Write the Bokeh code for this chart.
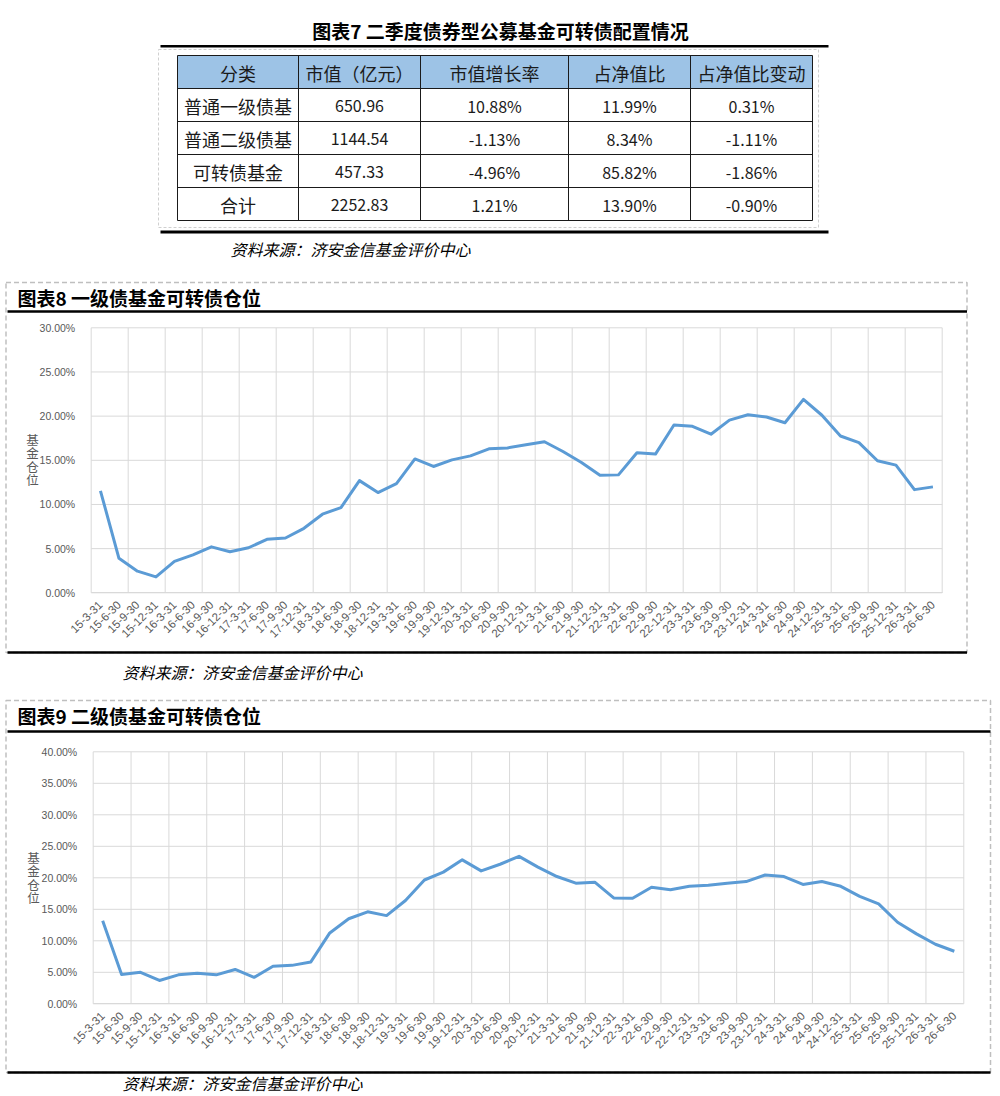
import math
from bokeh.plotting import figure
from bokeh.layouts import column
from bokeh.models import Range1d, FixedTicker, PrintfTickFormatter
from bokeh.core.properties import value
from bokeh.embed import file_html
from bokeh.resources import INLINE

# ---------------- data ----------------
table_title = "图表7 二季度债券型公募基金可转债配置情况"
table_header = ["分类", "市值（亿元）", "市值增长率", "占净值比", "占净值比变动"]
row_names = ["普通一级债基", "普通二级债基", "可转债基金", "合计"]
market_value = ["650.96", "1144.54", "457.33", "2252.83"]
growth_rate = ["10.88%", "-1.13%", "-4.96%", "1.21%"]
nav_ratio = ["11.99%", "8.34%", "85.82%", "13.90%"]
nav_ratio_change = ["0.31%", "-1.11%", "-1.86%", "-0.90%"]
source_text = "资料来源：济安金信基金评价中心"

quarters = ["15-3-31", "15-6-30", "15-9-30", "15-12-31",
            "16-3-31", "16-6-30", "16-9-30", "16-12-31",
            "17-3-31", "17-6-30", "17-9-30", "17-12-31",
            "18-3-31", "18-6-30", "18-9-30", "18-12-31",
            "19-3-31", "19-6-30", "19-9-30", "19-12-31",
            "20-3-31", "20-6-30", "20-9-30", "20-12-31",
            "21-3-31", "21-6-30", "21-9-30", "21-12-31",
            "22-3-31", "22-6-30", "22-9-30", "22-12-31",
            "23-3-31", "23-6-30", "23-9-30", "23-12-31",
            "24-3-31", "24-6-30", "24-9-30", "24-12-31",
            "25-3-31", "25-6-30", "25-9-30", "25-12-31",
            "26-3-31", "26-6-30"]

chart8_title = "图表8 一级债基金可转债仓位"
level1_position = [11.55, 3.9, 2.45, 1.8, 3.55, 4.3, 5.2, 4.65, 5.1, 6.05, 6.2, 7.3,
                   8.9, 9.65, 12.7, 11.35, 12.35, 15.15, 14.3, 15.05, 15.5, 16.3, 16.4, 16.75,
                   17.1, 16.0, 14.75, 13.3, 13.35, 15.85, 15.7, 19.0, 18.85, 17.95, 19.55, 20.15,
                   19.9, 19.25, 21.9, 20.1, 17.75, 17.0, 14.95, 14.45, 11.68, 11.99]
chart8_yticks = [0, 5, 10, 15, 20, 25, 30]

chart9_title = "图表9 二级债基金可转债仓位"
level2_position = [13.2, 4.65, 5.0, 3.7, 4.6, 4.85, 4.6, 5.45, 4.2, 5.95, 6.1, 6.65,
                   11.25, 13.5, 14.6, 14.0, 16.4, 19.65, 20.9, 22.85, 21.1, 22.15, 23.4, 21.7,
                   20.2, 19.15, 19.3, 16.8, 16.75, 18.5, 18.1, 18.65, 18.8, 19.15, 19.4, 20.45,
                   20.2, 18.95, 19.4, 18.65, 17.05, 15.85, 12.95, 11.1, 9.45, 8.34]
chart9_yticks = [0, 5, 10, 15, 20, 25, 30, 35, 40]

y_label = "基\n金\n仓\n位"

# ---------------- styles ----------------
W = 1000
CJK = "Noto Sans CJK SC"
LAT = "Liberation Sans"
GRID = "#d9d9d9"
TICK_TXT = "#595959"
LINE_C = "#5B9BD5"

# ---------------- table figure (page-pixel coordinates) ----------------
T_H = 270
t = figure(width=W, height=T_H, x_range=Range1d(0, W), y_range=Range1d(T_H, 0),
           output_backend="svg", toolbar_location=None, min_border=0,
           x_axis_location=None, y_axis_location=None)
t.grid.visible = False
t.outline_line_color = None

col_edges = [177, 298, 420, 568, 690, 812]
row_edges = [55, 88, 121, 154, 187, 220]

t.quad(left=[158], right=[818], top=[49], bottom=[227], fill_color=None,
       line_color="#d0d0d0", line_width=1, line_dash="3 2")
t.text(x=[500], y=[30], text=[table_title], text_font=value(CJK), text_font_style="bold",
       text_font_size="19px", text_align="center", text_baseline="middle", text_color="#000000")
t.line([160, 828], [45.7, 45.7], line_color="#000000", line_width=2.5)
t.line([160, 828], [231.5, 231.5], line_color="#000000", line_width=2.8)
t.quad(left=col_edges[:-1], right=col_edges[1:], top=[row_edges[0]] * 5, bottom=[row_edges[1]] * 5,
       fill_color="#9DC3E6", line_color=None)
t.segment(x0=col_edges, x1=col_edges, y0=[row_edges[0]] * 6, y1=[row_edges[-1]] * 6,
          line_color="#1a1a1a", line_width=1)
t.segment(x0=[col_edges[0]] * 6, x1=[col_edges[-1]] * 6, y0=row_edges, y1=row_edges,
          line_color="#1a1a1a", line_width=1)

columns = [row_names, market_value, growth_rate, nav_ratio, nav_ratio_change]
xc = [(col_edges[j] + col_edges[j + 1]) / 2 for j in range(5)]
yc = [(row_edges[i] + row_edges[i + 1]) / 2 + 1 for i in range(5)]
t.text(x=xc, y=[yc[0]] * 5, text=table_header, text_font=value(CJK), text_font_size="18px",
       text_align="center", text_baseline="middle", text_color="#1a1a1a")
for j, col in enumerate(columns):
    t.text(x=[xc[j]] * 4, y=yc[1:], text=col, text_font=value(CJK),
           text_font_size="18px" if j == 0 else "16px",
           text_align="center", text_baseline="middle", text_color="#1a1a1a")
t.text(x=[230], y=[248.5], text=[source_text], text_font=value(CJK), text_font_style="italic",
       text_font_size="16px", text_align="left", text_baseline="middle", text_color="#000000")


# ---------------- chart figures ----------------
def make_chart(values, yticks, title, block, frame, box, title_y, top_line_y,
               bottom_line_y, src_xy, ylab_xy):
    b_top, b_bot = block
    fl, fr, ft, fb = frame
    n = len(quarters)
    ymax = yticks[-1]
    ux = n / (fr - fl)
    uy = (ymax - yticks[0]) / (fb - ft)

    def X(px):
        return (px - fl) * ux

    def Y(py):
        return yticks[0] + (fb - py) * uy

    p = figure(width=W, height=b_bot - b_top,
               x_range=Range1d(X(0), X(W)), y_range=Range1d(Y(b_bot), Y(b_top)),
               output_backend="svg", toolbar_location=None, min_border=0)
    p.outline_line_color = None
    p.grid.visible = False

    # plot-area grid
    xb = list(range(0, n + 1, 2))
    p.segment(x0=xb, x1=xb, y0=[yticks[0]] * len(xb), y1=[ymax] * len(xb),
              line_color=GRID, line_width=1)
    p.segment(x0=[0] * len(yticks), x1=[n] * len(yticks), y0=yticks, y1=yticks,
              line_color=GRID, line_width=1)

    xs = [i + 0.5 for i in range(n)]
    p.line(xs, values, line_color=LINE_C, line_width=3, line_join="round")

    p.xaxis.fixed_location = yticks[0]
    p.xaxis.bounds = (0, n)
    p.xaxis.ticker = FixedTicker(ticks=xs)
    p.xaxis.major_label_overrides = {x: q for x, q in zip(xs, quarters)}
    p.xaxis.major_label_orientation = math.pi / 4
    p.xaxis.axis_line_color = GRID
    p.xaxis.major_tick_line_color = None
    p.xaxis.minor_tick_line_color = None
    p.xaxis.major_label_text_font = LAT
    p.xaxis.major_label_text_font_size = "11.5px"
    p.xaxis.major_label_text_color = TICK_TXT
    p.xaxis.major_label_standoff = 4

    p.yaxis.fixed_location = 0
    p.yaxis.bounds = (yticks[0], ymax)
    p.yaxis.ticker = FixedTicker(ticks=yticks)
    p.yaxis.formatter = PrintfTickFormatter(format="%.2f%%")
    p.yaxis.axis_line_color = None
    p.yaxis.major_tick_line_color = None
    p.yaxis.minor_tick_line_color = None
    p.yaxis.major_label_text_font = LAT
    p.yaxis.major_label_text_font_size = "10.5px"
    p.yaxis.major_label_text_color = TICK_TXT
    p.yaxis.major_label_standoff = 10

    # block decorations (positions in page pixels, mapped through the figure's scales)
    bl, br, bt, bb = box
    p.quad(left=[X(bl)], right=[X(br)], top=[Y(bt)], bottom=[Y(bb)], fill_color=None,
           line_color="#BFBFBF", line_width=1.5, line_dash="5 3")
    p.segment(x0=[X(7)] * 2, x1=[X(br)] * 2, y0=[Y(top_line_y), Y(bottom_line_y)],
              y1=[Y(top_line_y), Y(bottom_line_y)], line_color="#000000", line_width=2.6)
    p.text(x=[X(17)], y=[Y(title_y)], text=[title], text_font=value(CJK),
           text_font_style="bold", text_font_size="19px", text_align="left",
           text_baseline="middle", text_color="#000000")
    p.text(x=[X(ylab_xy[0])], y=[Y(ylab_xy[1])], text=[y_label], text_font=value(CJK),
           text_font_size="12.5px", text_line_height=0.7, text_align="center",
           text_baseline="middle", text_color=TICK_TXT)
    p.text(x=[X(src_xy[0])], y=[Y(src_xy[1])], text=[source_text], text_font=value(CJK),
           text_font_style="italic", text_font_size="16px", text_align="left",
           text_baseline="middle", text_color="#000000")
    return p


p8 = make_chart(level1_position, chart8_yticks, chart8_title, block=(270, 690),
                frame=(90.7, 941.7, 327.3, 592.3), box=(5.5, 966.5, 282, 652), title_y=297,
                top_line_y=311, bottom_line_y=652, src_xy=(122, 671), ylab_xy=(32, 459))

p9 = make_chart(level2_position, chart9_yticks, chart9_title, block=(690, 1094),
                frame=(92.7, 963.3, 751.3, 1003.3), box=(5.5, 990, 700, 1072), title_y=715,
                top_line_y=731, bottom_line_y=1072, src_xy=(122, 1082), ylab_xy=(33, 877))

layout = column(t, p8, p9, spacing=0)
open("out.html", "w").write(file_html(layout, INLINE))
